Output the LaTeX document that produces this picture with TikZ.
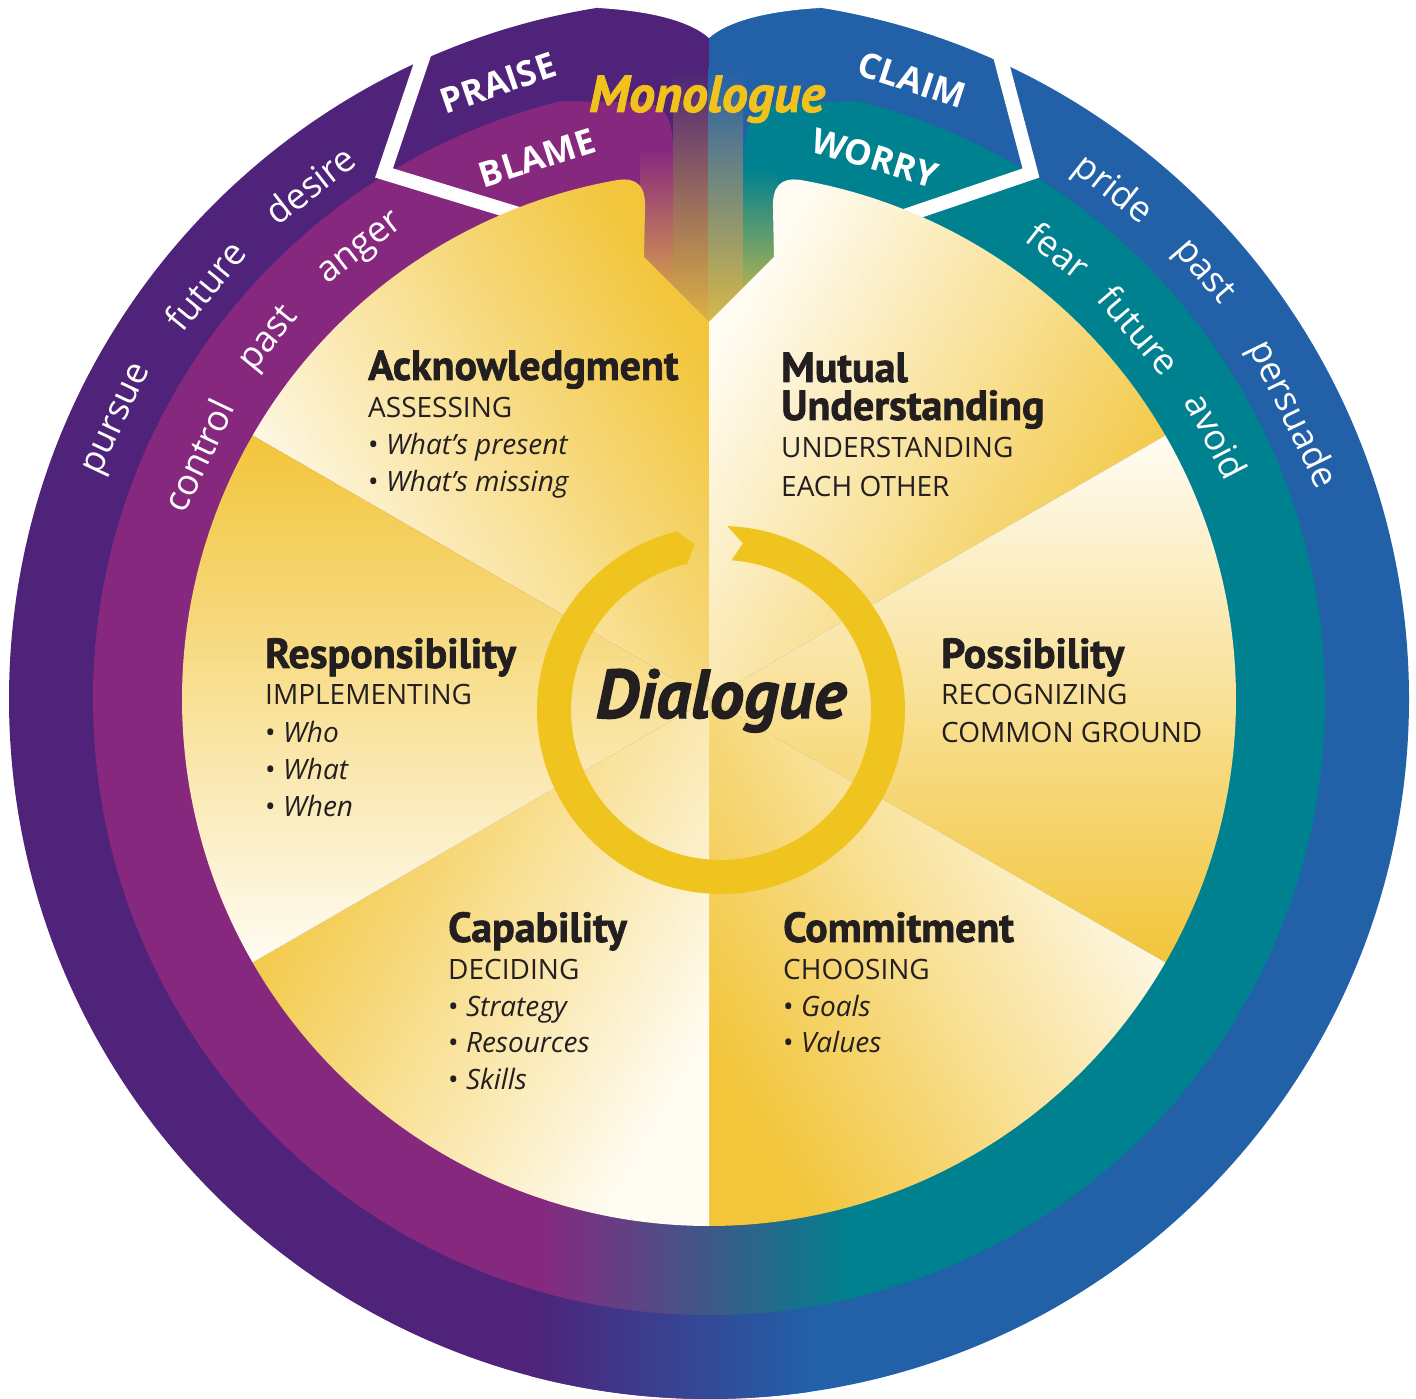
\documentclass[tikz,border=0pt]{standalone}
\usepackage{fontspec}
\setmainfont{Open Sans}
\newfontfamily\headfont{PT Sans}[BoldFeatures={FakeBold=1.6},BoldItalicFeatures={FakeBold=1.6}]
\usetikzlibrary{calc}
\definecolor{opurple}{HTML}{4E2379}
\definecolor{oblue}{HTML}{2260A8}
\definecolor{mmag}{HTML}{87287F}
\definecolor{mteal}{HTML}{00818F}
\definecolor{yel}{HTML}{F2C53A}
\definecolor{cream}{HTML}{FFFCF3}
\definecolor{ringy}{HTML}{F0C41F}
\definecolor{txt}{HTML}{231F20}
\definecolor{mono}{HTML}{F2C21C}
\tikzset{
  head/.style={anchor=base west, inner sep=0pt, text=txt, font=\headfont\bfseries\fontsize{42}{42}\selectfont},
  sub/.style={anchor=base west, inner sep=0pt, text=txt, font=\fontsize{28}{28}\selectfont},
  item/.style={anchor=base west, inner sep=0pt, text=txt, font=\fontsize{28}{28}\selectfont},
  ringw/.style={inner sep=0pt, text=white, font=\fontsize{36}{36}\selectfont},
  capw/.style={inner sep=0pt, text=white, font=\bfseries\fontsize{35}{35}\selectfont},
  wline/.style={white, line width=14pt, line join=miter}
}
\newcommand\bul[1]{\textbullet\ \textit{#1}}
\begin{document}
\begin{tikzpicture}[x=1pt,y=1pt]
\useasboundingbox (0,0) rectangle (1416,1399);
\coordinate (C) at (709,700);
% outer ring
\fill[opurple] (709,1400) -- (709,0) arc[start angle=270,end angle=90,radius=700] -- cycle;
\fill[oblue] (709,0) arc[start angle=-90,end angle=90,radius=700] -- cycle;
\begin{scope}
  \clip (C) circle[radius=700];
  \shade[left color=opurple,right color=oblue] (530,0) rectangle (810,330);
\end{scope}
% notch at top
\fill[white] (598,1402) -- (598,1391) .. controls (650,1388) and (690,1378) .. (709,1361)
  .. controls (728,1378) and (768,1388) .. (820,1391) -- (820,1402) -- cycle;
% middle ring
\fill[mmag] (709,84) arc[start angle=270,end angle=104,radius=616] -- (635,1297)
  .. controls (662,1297) and (673,1285) .. (673,1249) -- (673,900) -- (709,900) -- cycle;
\fill[mteal] (709,84) arc[start angle=-90,end angle=76,radius=616] -- (790,1296)
  .. controls (755,1294) and (743,1280) .. (743,1229) -- (743,900) -- (709,900) -- cycle;
\begin{scope}
  \clip (C) circle[radius=616];
  \shade[left color=mmag,right color=mteal] (539,0) rectangle (851,330);
\end{scope}
% white separators
\coordinate (wl1) at (430,1362); \coordinate (wl2) at (384,1226); \coordinate (wl3) at (535,1180);
\coordinate (wr1) at (995,1362); \coordinate (wr2) at (1031,1226); \coordinate (wr3) at (890,1178);
\draw[wline] (wl1) -- (wl2) -- (wl3);
\draw[wline] (wr1) -- (wr2) -- (wr3);
% fading strips at top centre
\shade[top color=opurple,bottom color=yel] (673,1040) rectangle (709.5,1330);
\shade[top color=mmag,bottom color=yel] (640,1060) rectangle (673,1250);
\shade[top color=oblue,bottom color=yel] (708.5,1040) rectangle (743,1330);
\shade[top color=mteal,bottom color=yel] (743,1060) rectangle (778,1230);
% yellow sectors
\shade[top color=cream,bottom color=yel,shading angle=120] (C) -- ++(150:527)
  arc[start angle=150,end angle=100,radius=527]
  .. controls (638,1222) and (646,1212) .. (645,1190) -- (644,1142) -- (709,1077) -- cycle;
\shade[top color=cream,bottom color=yel,shading angle=60] (C) -- (709,1077) -- (774,1142)
  -- (773,1190) .. controls (772,1212) and (780,1222) .. (800.5,1219)
  arc[start angle=80,end angle=30,radius=527] -- cycle;
\shade[top color=cream,bottom color=yel,shading angle=0] (C) -- ++(-30:527)
  arc[start angle=-30,end angle=30,radius=527] -- cycle;
\shade[top color=cream,bottom color=yel,shading angle=300] (C) -- ++(270:527)
  arc[start angle=270,end angle=330,radius=527] -- cycle;
\shade[top color=cream,bottom color=yel,shading angle=240] (C) -- ++(210:527)
  arc[start angle=210,end angle=270,radius=527] -- cycle;
\shade[top color=cream,bottom color=yel,shading angle=180] (C) -- ++(150:527)
  arc[start angle=150,end angle=210,radius=527] -- cycle;
% dialogue ring
\coordinate (RC) at (721,689);
\fill[ringy] ($(RC)+(88:184)$) arc[start angle=88,end angle=-256,radius=184]
  -- ($(RC)+(99:168)$) -- ($(RC)+(103:150)$) arc[start angle=-257,end angle=86,radius=150]
  -- ($(RC)+(82.5:168)$) -- cycle;
\node[inner sep=0pt, anchor=base, text=txt, font=\headfont\bfseries\itshape\fontsize{69}{69}\selectfont] (dia) at (721,681) {Dialogue};
\node[inner sep=0pt, anchor=base, text=mono, font=\headfont\bfseries\itshape\fontsize{52}{52}\selectfont] (mono) at (707,1287) {Monologue};
% ring words
\node[ringw, rotate=64.7] (w1) at ($(C)+(154.7:652)$) {pursue};
\node[ringw, rotate=50.6] (w2) at ($(C)+(140.6:652)$) {future};
\node[ringw, rotate=37.8] (w3) at ($(C)+(127.8:651)$) {desire};
\node[ringw, rotate=-38.4] (w4) at ($(C)+(51.6:649)$) {pride};
\node[ringw, rotate=-49.2] (w5) at ($(C)+(40.8:652)$) {past};
\node[ringw, rotate=-64] (w6) at ($(C)+(26:648)$) {persuade};
\node[ringw, rotate=64.5] (w7) at ($(C)+(154.5:566)$) {control};
\node[ringw, rotate=50.7] (w8) at ($(C)+(140.7:567)$) {past};
\node[ringw, rotate=37.7] (w9) at ($(C)+(127.7:567)$) {anger};
\node[ringw, rotate=-37.9] (w10) at ($(C)+(52.1:569)$) {fear};
\node[ringw, rotate=-49.4] (w11) at ($(C)+(40.6:567)$) {future};
\node[ringw, rotate=-62.6] (w12) at ($(C)+(27.4:572)$) {avoid};
\node[capw, rotate=18.9] (praise) at (498,1316) {PRAISE};
\node[capw, rotate=-18.2] (claim) at (912,1319) {CLAIM};
\node[capw, rotate=17.6] (blame) at (537,1241) {BLAME};
\node[capw, rotate=-17] (worry) at (875,1241) {WORRY};
% sector texts
\node[head] (ack) at (368,1019) {Acknowledgment};
\node[sub] (ack1) at (368,981) {ASSESSING};
\node[item] (ack2) at (368,944) {\bul{What’s present}};
\node[item] (ack3) at (368,907) {\bul{What’s missing}};
\node[head] (mut) at (781,1017) {Mutual};
\node[head] (mut0) at (781,979) {Understanding};
\node[sub] (mut1) at (781,941) {UNDERSTANDING};
\node[sub] (mut2) at (781,902) {EACH OTHER};
\node[head] (res) at (265,731) {Responsibility};
\node[sub] (res1) at (265,694) {IMPLEMENTING};
\node[item] (res2) at (265,656) {\bul{Who}};
\node[item] (res3) at (265,619) {\bul{What}};
\node[item] (res4) at (265,582) {\bul{When}};
\node[head] (pos) at (941,731) {Possibility};
\node[sub] (pos1) at (941,694) {RECOGNIZING};
\node[sub] (pos2) at (941,656) {COMMON GROUND};
\node[head] (cap) at (448,457) {Capability};
\node[sub] (cap1) at (448,419) {DECIDING};
\node[item] (cap2) at (448,382) {\bul{Strategy}};
\node[item] (cap3) at (448,346) {\bul{Resources}};
\node[item] (cap4) at (448,309) {\bul{Skills}};
\node[head] (com) at (783,457) {Commitment};
\node[sub] (com1) at (783,419) {CHOOSING};
\node[item] (com2) at (783,382) {\bul{Goals}};
\node[item] (com3) at (783,346) {\bul{Values}};
\end{tikzpicture}
\end{document}
